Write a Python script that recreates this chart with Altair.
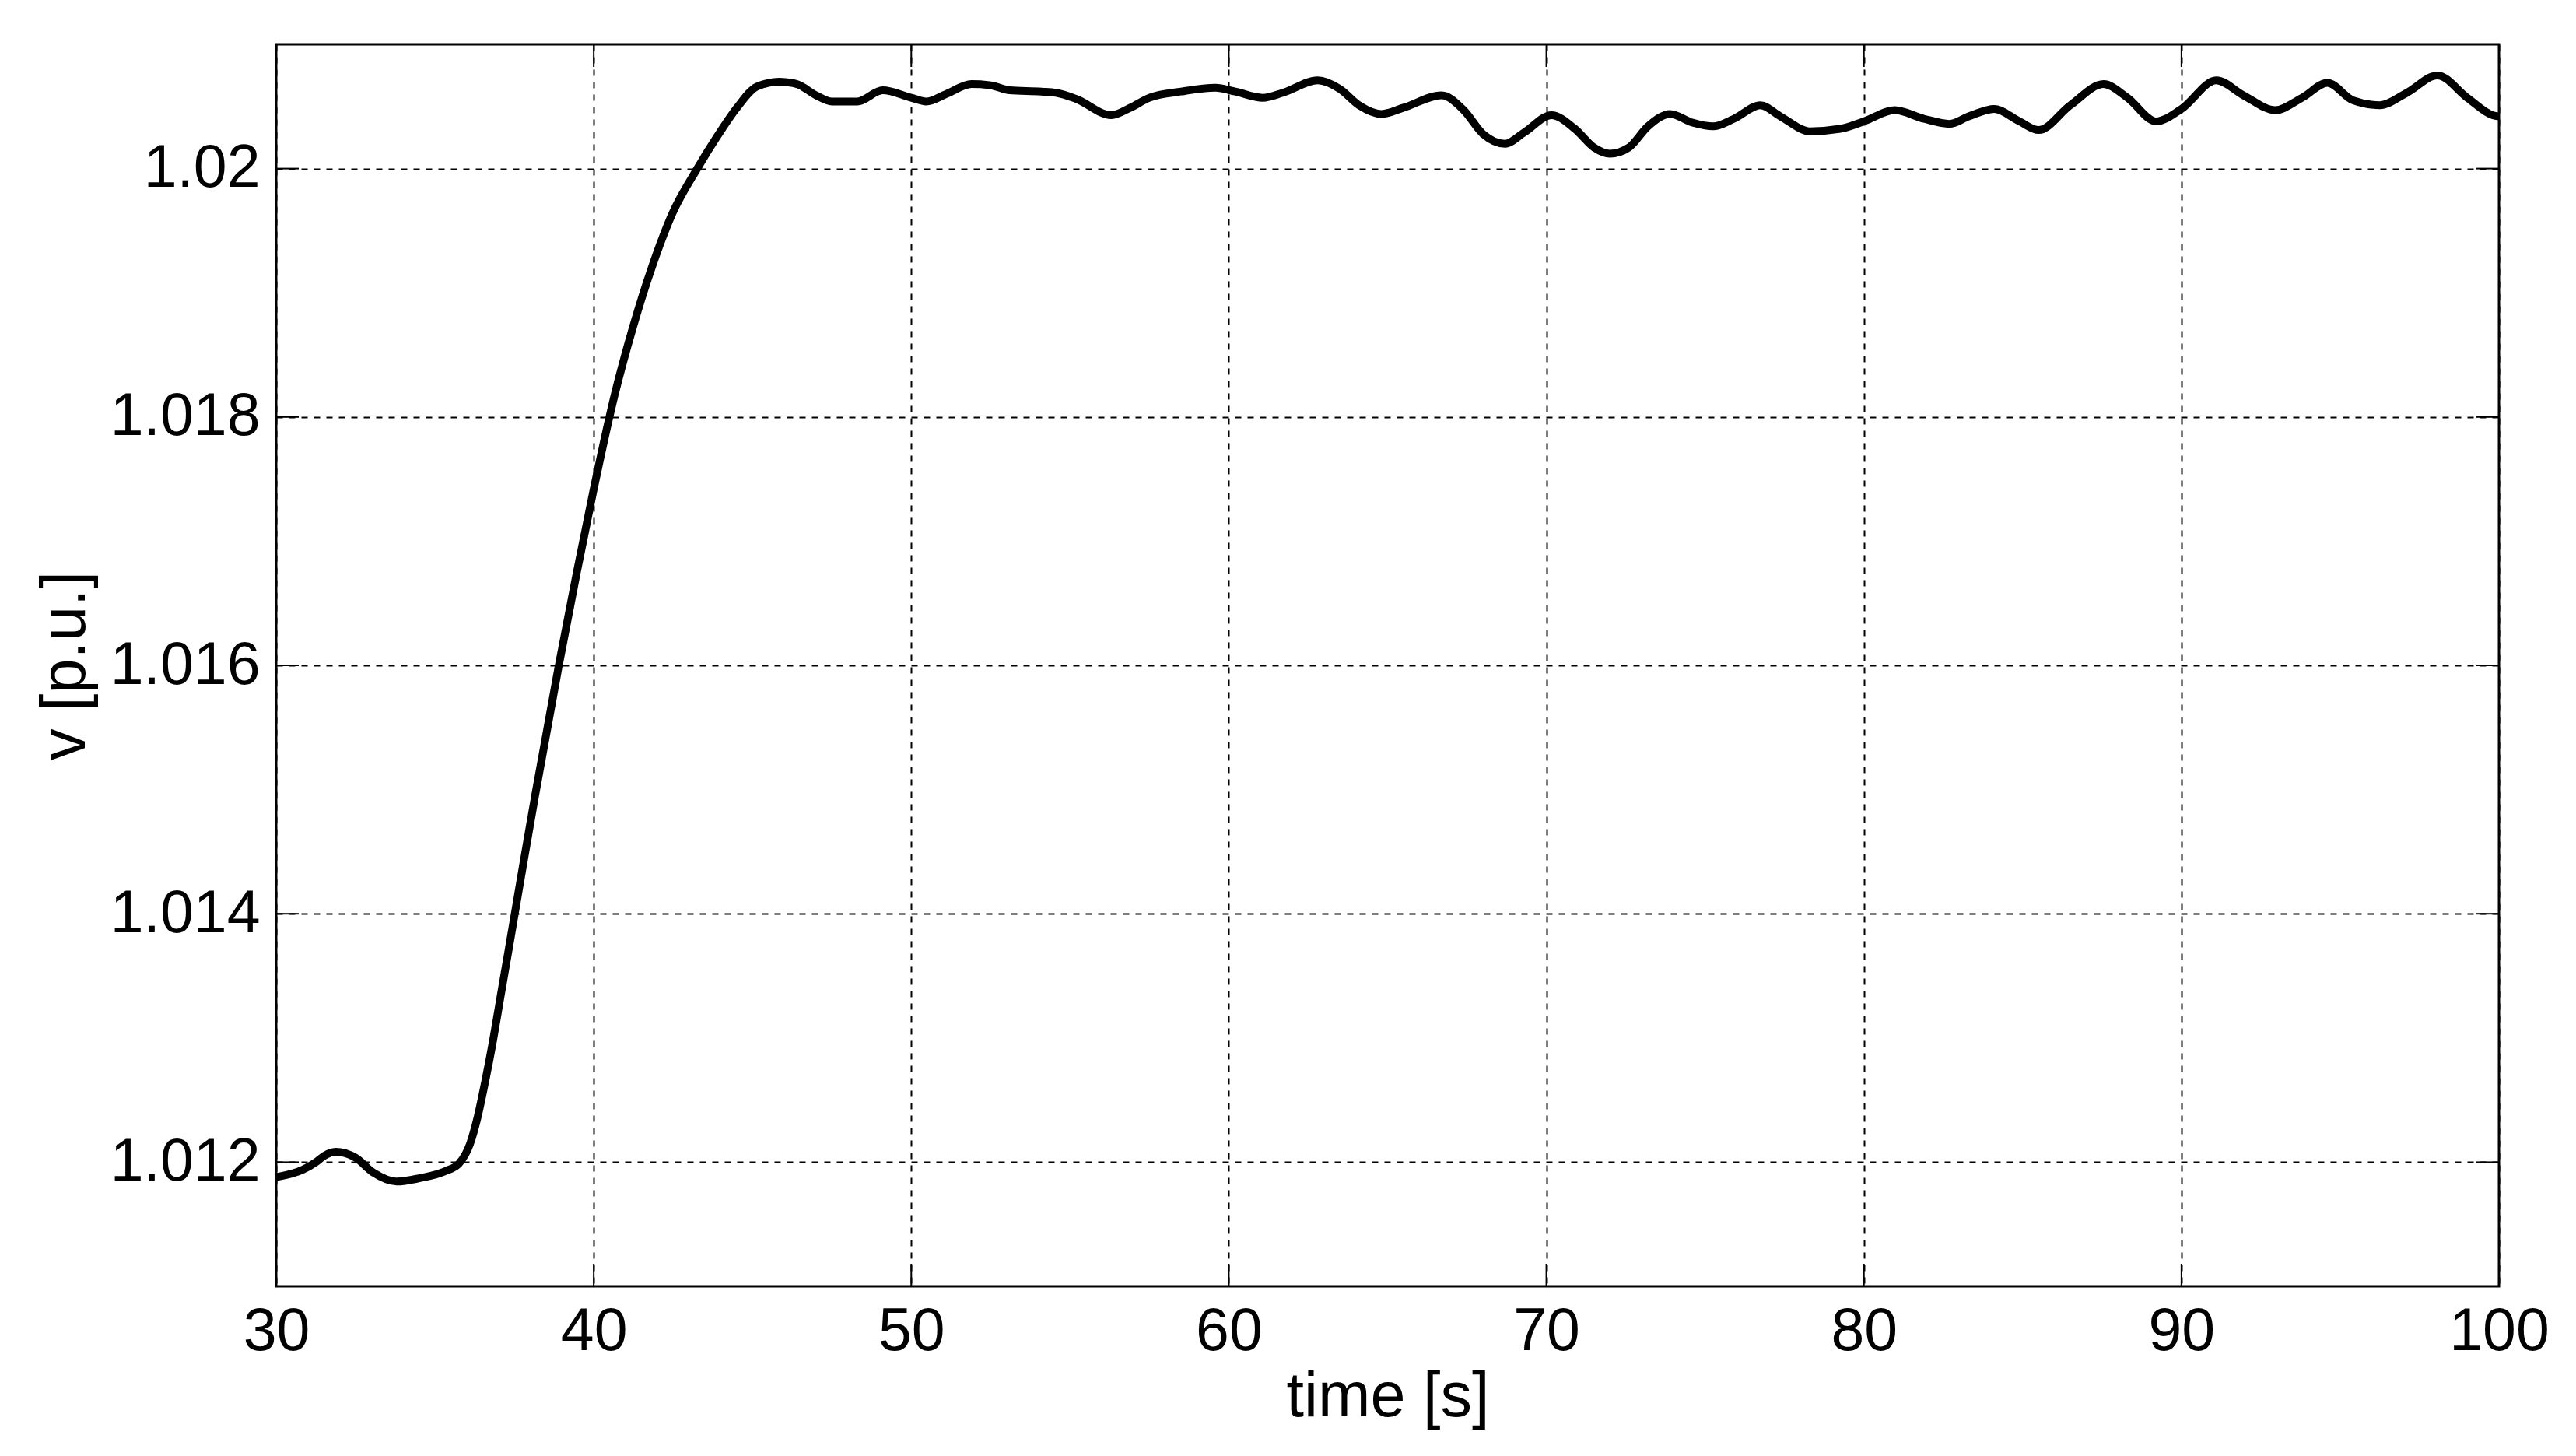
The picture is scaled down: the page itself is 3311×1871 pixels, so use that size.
import altair as alt
import pandas as pd

# ---- data ----
time_s = [30.0, 30.84, 31.25, 31.5, 31.87, 32.5, 33.06, 33.8, 34.5, 35.35, 35.76,
          36.1, 36.34, 36.58, 36.83, 37.07, 37.32, 37.52, 37.8, 38.16, 38.9, 39.46,
          40.0, 40.66, 41.22, 41.85, 42.48, 43.26, 43.89, 44.51, 45.14, 45.85, 46.4,
          47.0, 47.5, 48.3, 49.1, 50.0, 50.47, 51.1, 51.9, 52.5, 53.1, 54.1, 54.56,
          55.2, 56.3, 56.9, 57.5, 58.5, 59.58, 60.2, 61.07, 61.7, 62.8, 63.5, 64.1,
          64.8, 65.5, 66.7, 67.4, 68.0, 68.7, 69.3, 70.16, 70.9, 71.5, 72.0, 72.6,
          73.2, 73.9, 74.6, 75.25, 75.9, 76.74, 77.37, 78.3, 79.25, 80.0, 80.97,
          81.9, 82.7, 83.3, 84.1, 84.9, 85.5, 86.5, 87.55, 88.3, 89.2, 90.0, 91.1,
          91.95, 92.96, 93.8, 94.6, 95.4, 96.25, 97.1, 98.06, 99.0, 99.8, 100.0]
voltage_pu = [1.01188, 1.01194, 1.01200, 1.01205, 1.012084, 1.012036, 1.011916,
              1.011844, 1.01187, 1.01193, 1.01199, 1.012144, 1.01236, 1.012647,
              1.01298, 1.01334, 1.01371, 1.01401, 1.01443, 1.01496, 1.01600,
              1.01674, 1.01742, 1.01818, 1.01871, 1.01922, 1.01964, 1.02000,
              1.02026, 1.02049, 1.02066, 1.02070, 1.02068, 1.02059, 1.02054,
              1.02054, 1.02063, 1.02057, 1.02054, 1.02060, 1.02068, 1.02067,
              1.02063, 1.02062, 1.02061, 1.02056, 1.02043, 1.02049, 1.02057,
              1.02062, 1.02065, 1.02062, 1.02057, 1.02061, 1.02071, 1.02064,
              1.02051, 1.02044, 1.02049, 1.02059, 1.02047, 1.02028, 1.02020,
              1.02029, 1.02043, 1.02032, 1.02017, 1.02012, 1.02017, 1.02034,
              1.02044, 1.02037, 1.02034, 1.02040, 1.02051, 1.02042, 1.02030,
              1.02032, 1.02038, 1.02047, 1.02040, 1.02036, 1.02042, 1.02048,
              1.02038, 1.02031, 1.02051, 1.02068, 1.02057, 1.02038, 1.02048,
              1.02071, 1.02059, 1.02047, 1.02057, 1.02069, 1.02055, 1.02051,
              1.02061, 1.02075, 1.02057, 1.02043, 1.02042]
x_ticks = [30, 40, 50, 60, 70, 80, 90, 100]
y_ticks = [1.012, 1.014, 1.016, 1.018, 1.02]
x_domain = [30, 100]
y_domain = [1.011, 1.021]

W, H = 2857, 1596
TICK = 29
FONT = "Liberation Sans"

df = pd.DataFrame({"t": time_s, "v": voltage_pu})
xt = pd.DataFrame({"t": x_ticks})
yt = pd.DataFrame({"v": y_ticks})

xscale = alt.Scale(domain=x_domain, nice=False, zero=False)
yscale = alt.Scale(domain=y_domain, nice=False, zero=False)

line = alt.Chart(df).mark_line(
    color="black", strokeWidth=10, interpolate="monotone", clip=True
).encode(
    x=alt.X("t:Q", scale=xscale,
            axis=alt.Axis(values=x_ticks, title="time [s]", format="d",
                          labelPadding=20, labelFlush=False,
                          titleX=W / 2, titleY=142,
                          titleBaseline="middle", titleAlign="center")),
    y=alt.Y("v:Q", scale=yscale,
            axis=alt.Axis(values=y_ticks, title="v [p.u.]",
                          labelExpr="format(datum.value, '.4~f')",
                          labelPadding=21, labelFlush=False, labelLimit=0,
                          titleX=-271, titleY=H / 2,
                          titleBaseline="middle", titleAlign="center")),
)

tick_style = dict(color="black", strokeWidth=2)
y_left = alt.Chart(yt).mark_rule(**tick_style).encode(
    y=alt.Y("v:Q", scale=yscale), x=alt.value(0), x2=alt.value(TICK))
y_right = alt.Chart(yt).mark_rule(**tick_style).encode(
    y=alt.Y("v:Q", scale=yscale), x=alt.value(W - TICK), x2=alt.value(W))
x_bottom = alt.Chart(xt).mark_rule(**tick_style).encode(
    x=alt.X("t:Q", scale=xscale), y=alt.value(H - TICK), y2=alt.value(H))
x_top = alt.Chart(xt).mark_rule(**tick_style).encode(
    x=alt.X("t:Q", scale=xscale), y=alt.value(0), y2=alt.value(TICK))

chart = alt.layer(y_left, y_right, x_bottom, x_top, line).properties(
    width=W, height=H,
    padding={"left": 347, "top": 49, "right": 90, "bottom": 200},
    autosize=alt.AutoSizeParams(type="none"),
    background="white",
).configure_view(
    stroke="black", strokeWidth=3
).configure_axis(
    domain=False, ticks=False,
    grid=True, gridColor="black", gridOpacity=1, gridWidth=2, gridDash=[8, 8],
    labelFont=FONT, labelFontSize=77, labelColor="black", labelLimit=0,
    titleFont=FONT, titleFontSize=81, titleColor="black", titleFontWeight="normal",
)

chart.save("out.html", embed_options={"renderer": "svg", "actions": False})
